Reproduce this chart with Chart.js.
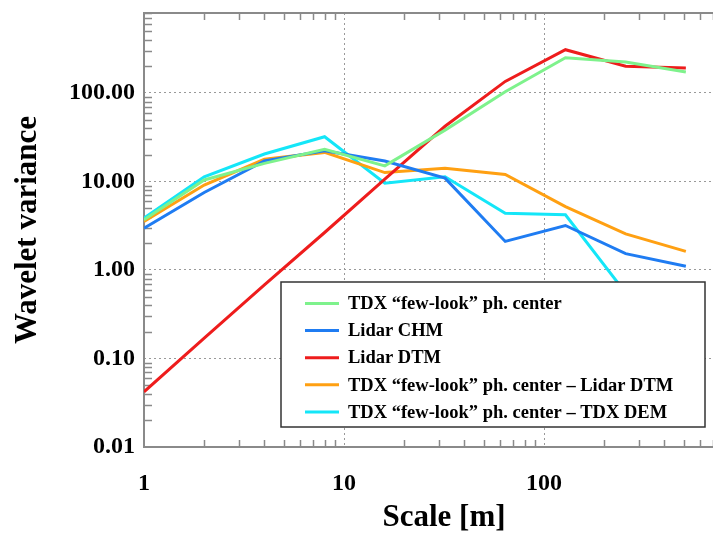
<!DOCTYPE html>
<html>
<head>
<meta charset="utf-8">
<script src="https://cdn.jsdelivr.net/npm/chart.js@4.4.1/dist/chart.umd.min.js"></script>
<style>
    html, body { margin: 0; padding: 0; background: #fff; overflow: hidden; }
    #wrap { width: 760px; height: 534px; }
</style>
</head>
<body>
<div id="wrap"><canvas id="chart" width="760" height="534"></canvas></div>
<script>
// ================= DATA =================
const scales = [1, 2, 4, 8, 16, 32, 64, 128, 256, 512];

const tdxPhaseCenter = [3.7, 10.4, 16.0, 23.1, 15.0, 38, 103, 250, 223, 172];
const lidarChm = [2.97, 7.5, 17.1, 22.2, 17.0, 10.9, 2.1, 3.18, 1.53, 1.10];
const lidarDtm = [0.042, 0.17, 0.68, 2.65, 10.6, 42, 135, 308, 200, 191];
const tdxMinusDtm = [3.52, 9.1, 17.8, 21.3, 12.6, 14.1, 12.0, 5.2, 2.56, 1.62];
const tdxMinusDem = [3.86, 11.3, 20.4, 32, 9.55, 11.3, 4.38, 4.2, 0.55, 0.2];

const seriesLabels = [
    "TDX \u201cfew-look\u201d ph. center",
    "Lidar CHM",
    "Lidar DTM",
    "TDX \u201cfew-look\u201d ph. center \u2013 Lidar DTM",
    "TDX \u201cfew-look\u201d ph. center \u2013 TDX DEM"
];
const seriesColors = ["#7ef28c", "#1f7cf2", "#ee1c1c", "#ffa012", "#14e6f8"];

const xTicks = [1, 10, 100];
const yTicks = [0.01, 0.1, 1, 10, 100];

const SERIF = "'Liberation Serif', 'Times New Roman', serif";
const FRAME = "#8a8a8a";

// ================= PLUGINS =================
// frame + inward minor ticks on all sides
const frameTicks = {
    id: "frameTicks",
    beforeDatasetsDraw(chart) {
        const { ctx, chartArea: a, scales: s } = chart;
        ctx.save();
        ctx.strokeStyle = FRAME;
        ctx.lineWidth = 1.5;
        ctx.beginPath();
        [1, 10, 100].forEach(d => {
            for (let m = 2; m <= 9; m++) {
                const px = Math.round(s.x.getPixelForValue(d * m)) + 0.5;
                if (px > a.right) continue;
                ctx.moveTo(px, a.bottom); ctx.lineTo(px, a.bottom - 7);
                ctx.moveTo(px, a.top); ctx.lineTo(px, a.top + 7);
            }
        });
        [0.01, 0.1, 1, 10, 100].forEach(d => {
            for (let m = 2; m <= 9; m++) {
                const py = Math.round(s.y.getPixelForValue(d * m)) + 0.5;
                if (py < a.top) continue;
                ctx.moveTo(a.left, py); ctx.lineTo(a.left + 8, py);
                ctx.moveTo(a.right, py); ctx.lineTo(a.right - 8, py);
            }
        });
        ctx.stroke();
        ctx.lineWidth = 2;
        ctx.strokeRect(a.left, a.top, a.right - a.left, a.bottom - a.top);
        ctx.restore();
    }
};

// legend box inside the plot
const boxLegend = {
    id: "boxLegend",
    afterDatasetsDraw(chart) {
        const { ctx } = chart;
        const x0 = 281, y0 = 282, w = 424, h = 145;
        ctx.save();
        ctx.fillStyle = "#fff";
        ctx.fillRect(x0, y0, w, h);
        ctx.strokeStyle = "#333";
        ctx.lineWidth = 1.5;
        ctx.strokeRect(x0, y0, w, h);
        ctx.font = "bold 18.5px " + SERIF;
        ctx.textBaseline = "middle";
        chart.data.datasets.forEach((ds, i) => {
            const y = 303.5 + i * 27.1;
            ctx.strokeStyle = ds.borderColor;
            ctx.lineWidth = 3;
            ctx.beginPath();
            ctx.moveTo(305, y);
            ctx.lineTo(339, y);
            ctx.stroke();
            ctx.fillStyle = "#000";
            ctx.fillText(ds.label, 348, y + 1);
        });
        ctx.restore();
    }
};

// ================= CHART =================
const series = [tdxPhaseCenter, lidarChm, lidarDtm, tdxMinusDtm, tdxMinusDem];

new Chart(document.getElementById("chart"), {
    type: "line",
    data: {
        labels: scales,
        datasets: series.map((vals, i) => ({
            label: seriesLabels[i],
            data: vals.map((v, k) => ({ x: scales[k], y: v })),
            borderColor: seriesColors[i],
            borderWidth: 3,
            pointRadius: 0,
            tension: 0,
            fill: false
        }))
    },
    options: {
        responsive: false,
        animation: false,
        layout: { padding: { top: 13, right: 16, left: 0, bottom: 0 } },
        plugins: { legend: { display: false }, tooltip: { enabled: false } },
        scales: {
            x: {
                type: "logarithmic",
                min: 1,
                max: 1000,
                afterBuildTicks: s => { s.ticks = xTicks.map(v => ({ value: v })); },
                afterFit: s => { s.height = 87; s.paddingLeft = 0; s.paddingRight = 0; },
                ticks: {
                    callback: v => String(v),
                    color: "#000",
                    padding: 25,
                    maxRotation: 0,
                    font: { family: SERIF, size: 24, weight: "bold", lineHeight: 1 }
                },
                grid: { color: "#999", lineWidth: 1, drawTicks: false },
                border: { display: false, dash: [2, 3] },
                title: {
                    display: true,
                    text: "Scale [m]",
                    color: "#000",
                    padding: { top: 0, bottom: 0.5 },
                    font: { family: SERIF, size: 31, weight: "bold", lineHeight: 1 }
                }
            },
            y: {
                type: "logarithmic",
                min: 0.01,
                max: 800,
                afterBuildTicks: s => { s.ticks = yTicks.map(v => ({ value: v })); },
                afterFit: s => { s.width = 144; s.paddingTop = 0; s.paddingBottom = 0; },
                ticks: {
                    callback: v => Number(v).toFixed(2),
                    color: "#000",
                    padding: 9,
                    font: { family: SERIF, size: 24, weight: "bold", lineHeight: 1 }
                },
                grid: { color: "#999", lineWidth: 1, drawTicks: false },
                border: { display: false, dash: [2, 3] },
                title: {
                    display: true,
                    text: "Wavelet variance",
                    color: "#000",
                    padding: { top: 12.5, bottom: 0 },
                    font: { family: SERIF, size: 31, weight: "bold", lineHeight: 1 }
                }
            }
        }
    },
    plugins: [frameTicks, boxLegend]
});
</script>
</body>
</html>
